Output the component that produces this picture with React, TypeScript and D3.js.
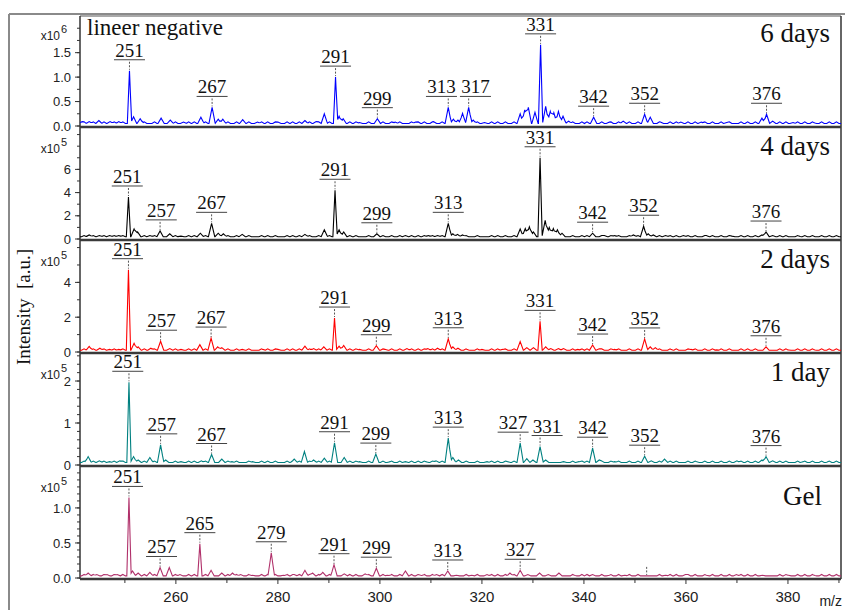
import React from "react";
import * as d3 from "d3";

// m/z axis
const mzDomain: [number, number] = [241.2, 390.4];
const mzTicks = [260, 280, 300, 320, 340, 360, 380];
const mzMinorTicks = [250, 270, 290, 310, 330, 350, 370, 390];

// peaks: [m/z, intensity in panel units]
const sixDays: [number, number][] = [
  [241.6, 0.09], [243, 0.09], [244.9, 0.11], [247.1, 0.09], [248.8, 0.09],
  [250.9, 1.13], [251.7, 0.19], [253, 0.15], [257.1, 0.16], [258.9, 0.12], [261.5, 0.08],
  [264.9, 0.18], [267.1, 0.38], [268.3, 0.14], [269.2, 0.14], [273.1, 0.13], [276, 0.08],
  [280, 0.08], [285.3, 0.11], [287.5, 0.09], [289.1, 0.25], [291.3, 1.0], [292, 0.2],
  [292.8, 0.15], [296, 0.07], [299.5, 0.15], [303, 0.08], [307, 0.08], [310.5, 0.09],
  [313.4, 0.38], [314.4, 0.14], [315.3, 0.12], [316.2, 0.26], [317.4, 0.38], [318.3, 0.12],
  [320.5, 0.07], [327.5, 0.25], [328.4, 0.33], [329.1, 0.38], [330.4, 0.28], [331.5, 1.66],
  [332.5, 0.4], [333.4, 0.3], [334.1, 0.27], [335, 0.3], [335.9, 0.2], [337, 0.1],
  [341.9, 0.18], [345, 0.08], [347.7, 0.1], [351.9, 0.24], [353, 0.18], [355, 0.08],
  [359, 0.08], [363, 0.08], [368, 0.07], [374.9, 0.16], [375.8, 0.24], [377, 0.1],
  [381, 0.07], [385, 0.07],
];
const fourDays: [number, number][] = [
  [243, 0.35], [245, 0.3], [247, 0.3], [248.8, 0.3], [250.7, 3.62], [251.8, 0.86],
  [252.5, 0.6], [254.9, 0.3], [256.9, 0.7], [258.8, 0.45], [261, 0.25], [264.8, 0.5],
  [267, 1.35], [268.3, 0.5], [269.3, 0.45], [273, 0.4], [285.3, 0.4], [289.1, 0.8],
  [291.2, 4.2], [292, 0.8], [292.9, 0.6], [299.4, 0.45], [305, 0.3], [309.5, 0.3],
  [311.3, 0.3], [313.4, 1.35], [314.3, 0.45], [315.2, 0.4], [316.2, 0.35], [327.5, 0.86],
  [328.5, 0.9], [329.3, 1.06], [330.1, 0.6], [331.4, 7.0], [332.4, 1.6], [333.2, 1.0],
  [334, 0.9], [334.8, 0.8], [335.7, 0.5], [341.7, 0.5], [344, 0.3], [346, 0.3],
  [349.7, 0.35], [351.7, 1.1], [352.6, 0.45], [353.6, 0.35], [356, 0.3], [359.5, 0.3],
  [364, 0.3], [369, 0.25], [374.9, 0.35], [375.7, 0.6], [377, 0.3], [382, 0.25],
];
const twoDays: [number, number][] = [
  [243, 0.32], [245.1, 0.22], [247, 0.15], [248.8, 0.15], [250.7, 4.73], [251.8, 0.5],
  [252.6, 0.3], [255.1, 0.22], [257, 0.62], [258.8, 0.2], [261, 0.15], [264.7, 0.42],
  [266.9, 0.8], [268.2, 0.3], [269, 0.25], [273, 0.15], [277, 0.15], [280, 0.15],
  [285.3, 0.33], [287, 0.2], [289, 0.3], [291.1, 1.95], [292, 0.33], [292.9, 0.38],
  [296, 0.15], [299.3, 0.36], [301, 0.15], [305.3, 0.2], [309.4, 0.2], [311.3, 0.22],
  [313.4, 0.76], [314.3, 0.3], [315.3, 0.22], [317, 0.15], [320, 0.15], [324, 0.15],
  [327.5, 0.6], [328.8, 0.25], [330.1, 0.25], [331.4, 1.76], [332.5, 0.3], [333.5, 0.2],
  [335, 0.2], [336, 0.2], [338.8, 0.15], [341.7, 0.4], [343, 0.18], [346, 0.15],
  [351.9, 0.75], [353, 0.3], [354, 0.25], [357, 0.15], [361, 0.15], [366, 0.12],
  [375.7, 0.3], [380, 0.12], [385, 0.12],
];
const oneDay: [number, number][] = [
  [242.8, 0.2], [245, 0.1], [247, 0.08], [249, 0.1], [250.8, 1.97], [251.7, 0.2],
  [252.6, 0.12], [254.9, 0.18], [257, 0.48], [258, 0.12], [261, 0.08], [265, 0.1],
  [267, 0.25], [269, 0.14], [271, 0.08], [275, 0.08], [283.2, 0.14], [285.2, 0.32],
  [287, 0.12], [289.1, 0.16], [291.1, 0.53], [293, 0.18], [296, 0.08], [299.2, 0.26],
  [302, 0.08], [305, 0.08], [309, 0.08], [311, 0.1], [313.4, 0.64], [314.3, 0.18],
  [315.4, 0.12], [317, 0.08], [321, 0.08], [325, 0.08], [327.5, 0.52], [328.8, 0.15],
  [330, 0.12], [331.4, 0.44], [332.5, 0.12], [336, 0.08], [339, 0.08], [341.7, 0.4],
  [343, 0.12], [346, 0.08], [351.9, 0.21], [353.2, 0.1], [355.8, 0.14], [362, 0.08],
  [370, 0.1], [374.9, 0.12], [375.7, 0.2], [377, 0.1], [383, 0.08], [388, 0.08],
];
const gel: [number, number][] = [
  [242.8, 0.07], [244.5, 0.05], [246.5, 0.05], [248.5, 0.05], [250.8, 1.15], [251.5, 0.1],
  [252.6, 0.07], [254.9, 0.08], [256.9, 0.15], [258.7, 0.15], [260.8, 0.05], [264.7, 0.49],
  [266.9, 0.11], [269, 0.07], [271.1, 0.07], [272.7, 0.05], [275, 0.04], [278.7, 0.36],
  [281.1, 0.04], [283.2, 0.05], [285.3, 0.11], [286.8, 0.07], [288.8, 0.08], [291, 0.19],
  [293, 0.06], [297.1, 0.06], [299.3, 0.14], [301.5, 0.04], [305, 0.1], [308, 0.04],
  [311.1, 0.05], [313.3, 0.1], [315, 0.04], [318, 0.04], [321, 0.05], [325.5, 0.07],
  [327.5, 0.11], [329, 0.05], [331.3, 0.07], [333, 0.05], [335.1, 0.07], [338, 0.04],
  [341.7, 0.05], [345, 0.04], [348, 0.04], [352.3, 0.03], [356, 0.04], [359.9, 0.05],
  [364, 0.04], [369.9, 0.05], [375, 0.04], [380, 0.04], [385, 0.04],
];

// small baseline wiggles common to all spectra
const ripple = [
  242.0, 243.8, 245.9, 247.9, 249.6, 253.8, 255.8, 259.9, 262.5, 263.6, 265.8, 270.2,
  271.9, 274.3, 276.8, 278.0, 279.5, 281.8, 282.9, 284.2, 286.2, 288.0, 290.1, 294.1,
  295.3, 297.8, 300.6, 302.3, 303.9, 306.2, 307.5, 308.7, 310.3, 312.2, 316.9, 319.1,
  321.9, 323.1, 324.6, 326.3, 337.8, 339.6, 340.6, 343.5, 345.3, 346.8, 348.9, 350.6,
  354.8, 356.9, 358.1, 360.4, 361.8, 363.7, 365.2, 366.9, 368.5, 370.8, 372.1, 373.6,
  378.4, 379.6, 381.9, 383.3, 384.8, 386.6, 388.1, 389.5,
];

// peak labels: [text, m/z of the apex]
const sixDaysLabels: [string, number][] = [
  ["251", 250.9], ["267", 267.1], ["291", 291.3], ["299", 299.5], ["313", 313.4],
  ["317", 317.4], ["331", 331.5], ["342", 341.9], ["352", 351.9], ["376", 375.8],
];
const fourDaysLabels: [string, number][] = [
  ["251", 250.7], ["257", 256.9], ["267", 267], ["291", 291.2], ["299", 299.4],
  ["313", 313.4], ["331", 331.4], ["342", 341.7], ["352", 351.7], ["376", 375.7],
];
const twoDaysLabels: [string, number][] = [
  ["251", 250.7], ["257", 257], ["267", 266.9], ["291", 291.1], ["299", 299.3],
  ["313", 313.4], ["331", 331.4], ["342", 341.7], ["352", 351.9], ["376", 375.7],
];
const oneDayLabels: [string, number][] = [
  ["251", 250.8], ["257", 257], ["267", 267], ["291", 291.1], ["299", 299.2],
  ["313", 313.4], ["327", 327.5], ["331", 331.4], ["342", 341.7], ["352", 351.9],
  ["376", 375.7],
];
const gelLabels: [string, number][] = [
  ["251", 250.8], ["257", 256.9], ["265", 264.7], ["279", 278.7], ["291", 291],
  ["299", 299.3], ["313", 313.3], ["327", 327.5], ["", 352.3],
];

const panelTitles = ["6 days", "4 days", "2 days", "1 day", "Gel"];
const panelColors = ["#0000ff", "#000000", "#ff0000", "#008080", "#b0306a"];
const panelExponents = ["6", "5", "5", "5", "5"];
const panelMax = [2.25, 9.48, 6.32, 2.62, 1.57];
const panelTicks = [[0, 0.5, 1, 1.5], [0, 2, 4, 6], [0, 2, 4], [0, 1, 2], [0, 0.5, 1]];
const panelMinorStep = [0.25, 1, 1, 0.2, 0.1];
const panelFloors = [0.05, 0.2, 0.1, 0.06, 0.03];
const panelRipple = [0.035, 0.1, 0.08, 0.035, 0.02];
const panelSpectra = [sixDays, fourDays, twoDays, oneDay, gel];
const panelLabels = [sixDaysLabels, fourDaysLabels, twoDaysLabels, oneDayLabels, gelLabels];

const W = 845;
const H = 610;
const left = 80;
const right = 841;
const top0 = 16;
const panelH = 113;

const serif = "'Liberation Serif', 'Times New Roman', serif";
const sans = "'Liberation Sans', Arial, sans-serif";

// envelope of narrow triangular peaks over a floor; small peaks are drawn a bit wider
function envelope(peaks: [number, number][], floor: number, rip: number, max: number) {
  const bumps: { p: number; h: number; w: number }[] = [];
  peaks.forEach(([p, v]) => bumps.push({ p, h: v - floor, w: v > max * 0.25 ? 0.42 : 0.62 }));
  ripple.forEach((p) => bumps.push({ p, h: rip, w: 0.5 }));
  const xs: number[] = [mzDomain[0], mzDomain[1]];
  bumps.forEach((b) => xs.push(b.p - b.w, b.p, b.p + b.w));
  const sorted = Array.from(new Set(xs.filter((x) => x >= mzDomain[0] && x <= mzDomain[1]))).sort((a, b) => a - b);
  const value = (m: number) => {
    let v = 0;
    for (const b of bumps) {
      const t = 1 - Math.abs(m - b.p) / b.w;
      if (t > 0) v = Math.max(v, b.h * t);
    }
    return floor + v;
  };
  return { pts: sorted.map((m) => [m, value(m)] as [number, number]), value };
}

const Panel = ({ i, x }: { i: number; x: d3.ScaleLinear<number, number> }) => {
  const top = top0 + i * panelH;
  const bottom = top + 111;
  const zero = bottom - 1;
  const y = d3.scaleLinear().domain([0, panelMax[i]]).range([zero, top]);
  const { pts, value } = envelope(panelSpectra[i], panelFloors[i], panelRipple[i], panelMax[i]);
  const line = d3
    .line<[number, number]>()
    .x((d) => x(d[0]))
    .y((d) => y(d[1]));
  const minor = d3.range(0, panelMax[i], panelMinorStep[i]);
  const fmt = panelTicks[i].some((t) => t % 1 !== 0) ? d3.format(".1f") : d3.format("d");

  // label placement, pushing apart neighbours that overlap
  const labels = panelLabels[i].map(([text, m]) => ({
    text,
    m,
    px: x(m),
    cx: x(m),
    apex: y(value(m)),
  }));
  const half = 15.5;
  for (let k = 0; k < labels.length - 1; k++) {
    const a = labels[k];
    const b = labels[k + 1];
    if (!a.text || !b.text) continue;
    const overlap = a.cx + half + 3 - (b.cx - half);
    if (overlap > 0) {
      a.cx -= overlap / 2;
      b.cx += overlap / 2;
    }
  }

  return (
    <g>
      <path d={line(pts) || ""} fill="none" stroke={panelColors[i]} strokeWidth={1.1} />
      {labels.map((l, k) => {
        const ul = l.apex - 11;
        return (
          <g key={k}>
            <line
              x1={l.px}
              x2={l.px}
              y1={ul + 2}
              y2={l.apex - 1}
              stroke="#555"
              strokeWidth={1}
              strokeDasharray="2,1.5"
            />
            {l.text && (
              <>
                <text
                  x={l.cx}
                  y={ul - 3}
                  textAnchor="middle"
                  fontFamily={serif}
                  fontSize={19}
                  fill="#111"
                >
                  {l.text}
                </text>
                <line x1={l.cx - half} x2={l.cx + half} y1={ul} y2={ul} stroke="#444" strokeWidth={1} />
              </>
            )}
          </g>
        );
      })}
      {/* y axis ticks */}
      {minor.map((t, k) => (
        <line key={"m" + k} x1={left - 3} x2={left} y1={y(t)} y2={y(t)} stroke="#333" strokeWidth={1} />
      ))}
      {panelTicks[i].map((t, k) => (
        <g key={"t" + k}>
          <line x1={left - 5} x2={left} y1={y(t)} y2={y(t)} stroke="#333" strokeWidth={1} />
          <text
            x={71}
            y={y(t)}
            dy="0.36em"
            textAnchor="end"
            fontFamily={sans}
            fontSize={13}
            fill="#222"
          >
            {fmt(t)}
          </text>
        </g>
      ))}
      <text x={60} y={top + 24} textAnchor="end" fontFamily={sans} fontSize={12} fill="#222">
        x10
      </text>
      <text x={61} y={top + 17} fontFamily={sans} fontSize={11} fill="#222">
        {panelExponents[i]}
      </text>
      <text
        x={i === 4 ? 822 : 830}
        y={top + (i === 4 ? 37 : 26)}
        textAnchor="end"
        fontFamily={serif}
        fontSize={27}
        fill="#111"
      >
        {panelTitles[i]}
      </text>
      <line x1={left} x2={right} y1={bottom} y2={bottom} stroke="#3a3a3a" strokeWidth={2.5} />
    </g>
  );
};

export default function App() {
  const x = d3.scaleLinear().domain(mzDomain).range([left, right]);
  const bottom = top0 + 4 * panelH + 111;
  return (
    <svg
      width={W}
      height={H}
      viewBox={`0 0 ${W} ${H}`}
      style={{ position: "absolute", left: 0, top: 0, background: "#fff" }}
    >
      <rect x={0} y={0} width={W} height={H} fill="#fff" />
      {/* outer frame */}
      <line x1={9} x2={W} y1={14} y2={14} stroke="#8a8a8a" strokeWidth={2} />
      <line x1={9} x2={9} y1={14} y2={H} stroke="#8a8a8a" strokeWidth={2} />
      {/* plot border */}
      <line x1={left} x2={right} y1={top0} y2={top0} stroke="#555" strokeWidth={1.2} />
      <line x1={right} x2={right} y1={top0} y2={bottom} stroke="#333" strokeWidth={1.5} />
      <line x1={left} x2={left} y1={top0} y2={bottom} stroke="#333" strokeWidth={1.5} />
      {panelTitles.map((_, i) => (
        <Panel key={i} i={i} x={x} />
      ))}
      {/* m/z axis */}
      {mzMinorTicks.map((t) => (
        <line key={"mm" + t} x1={x(t)} x2={x(t)} y1={bottom} y2={bottom + 4} stroke="#333" strokeWidth={1} />
      ))}
      {mzTicks.map((t) => (
        <g key={"mt" + t}>
          <line x1={x(t)} x2={x(t)} y1={bottom} y2={bottom + 5} stroke="#333" strokeWidth={1} />
          <text x={x(t)} y={602} textAnchor="middle" fontFamily={sans} fontSize={15} fill="#222">
            {t}
          </text>
        </g>
      ))}
      <text x={842} y={606} textAnchor="end" fontFamily={sans} fontSize={14} fill="#222">
        m/z
      </text>
      <text
        transform="translate(30, 307) rotate(-90)"
        textAnchor="middle"
        fontFamily={serif}
        fontSize={19}
        fill="#111"
      >
        {"Intensity\u00a0\u00a0[a.u.]"}
      </text>
      <text x={87} y={35} fontFamily={serif} fontSize={23} fill="#111">
        lineer negative
      </text>
    </svg>
  );
}
